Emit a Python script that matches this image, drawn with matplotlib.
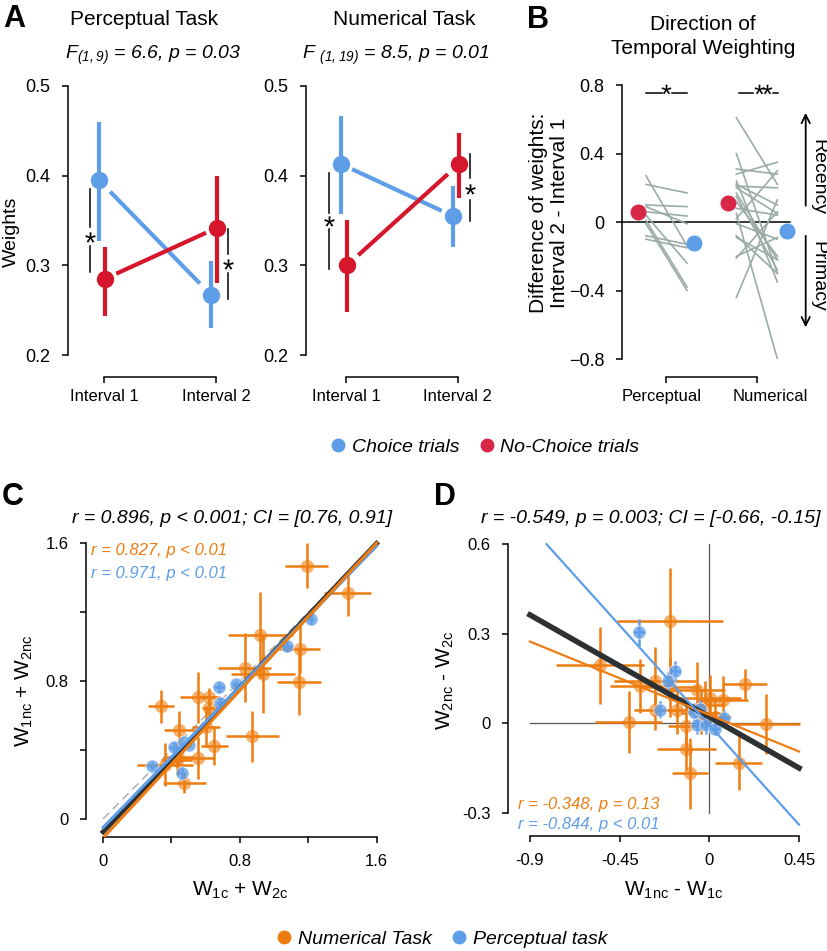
import numpy as np
import matplotlib
matplotlib.use('Agg')
import matplotlib.pyplot as plt
from matplotlib.lines import Line2D

plt.rcParams['font.family'] = ['Liberation Sans', 'DejaVu Sans']
plt.rcParams['mathtext.default'] = 'regular'
plt.rcParams['axes.linewidth'] = 1.1

BLUE = '#5E9DE8'
RED = '#D5162B'
ORANGE = '#EE7D11'
GREY = '#9AABA8'

# ---------------- panel A: mean weights per interval
intervals = [1, 2]
interval_labels = ['Interval 1', 'Interval 2']
perc_choice = [0.395, 0.267]
perc_choice_lo = [0.327, 0.230]
perc_choice_hi = [0.460, 0.305]
perc_nochoice = [0.285, 0.342]
perc_nochoice_lo = [0.243, 0.280]
perc_nochoice_hi = [0.320, 0.400]
num_choice = [0.413, 0.355]
num_choice_lo = [0.357, 0.320]
num_choice_hi = [0.467, 0.388]
num_nochoice = [0.300, 0.413]
num_nochoice_lo = [0.248, 0.375]
num_nochoice_hi = [0.350, 0.448]

# ---------------- panel B: interval2 - interval1 per subject
perc_diff_nochoice = [0.27, 0.22, 0.10, 0.06, 0.04, 0.01, -0.01, -0.08, -0.10, 0.09]
perc_diff_choice = [-0.14, 0.17, 0.09, 0.035, -0.24, -0.38, -0.40, -0.13, -0.15, -0.01]
num_diff_nochoice = [0.61, 0.40, 0.31, 0.28, 0.24, 0.22, 0.20, 0.17, 0.12, 0.08,
                     0.05, 0.02, -0.01, -0.08, -0.09, -0.20, -0.21, -0.44, 0.15, 0.21]
num_diff_choice = [0.22, -0.30, 0.28, 0.35, -0.35, 0.10, 0.05, -0.22, -0.20, 0.04,
                   -0.80, 0.30, -0.10, -0.30, -0.22, -0.09, 0.06, 0.13, -0.28, 0.20]
mean_diff_nochoice = [0.06, 0.11]
mean_diff_choice = [-0.12, -0.055]

# ---------------- panel C: sum of weights (choice vs no-choice)
c_num_x = [1.19, 1.43, 0.92, 1.15, 0.83, 0.936, 1.146, 0.339, 0.557, 0.621,
           0.621, 0.446, 0.601, 0.650, 0.874, 0.553, 0.43, 0.362, 0.475, 0.44]
c_num_y = [1.47, 1.31, 1.07, 0.985, 0.877, 0.843, 0.793, 0.653, 0.706, 0.708,
           0.644, 0.514, 0.535, 0.425, 0.479, 0.353, 0.343, 0.314, 0.211, 0.36]
c_num_xerr = [0.125, 0.14, 0.19, 0.12, 0.155, 0.185, 0.13, 0.076, 0.11, 0.06,
              0.045, 0.092, 0.08, 0.078, 0.154, 0.095, 0.09, 0.165, 0.127, 0.09]
c_num_yerr = [0.13, 0.13, 0.25, 0.14, 0.20, 0.23, 0.19, 0.097, 0.15, 0.05,
              0.05, 0.11, 0.12, 0.113, 0.147, 0.12, 0.09, 0.125, 0.06, 0.10]
c_perc_x = [1.215, 1.073, 0.777, 0.679, 0.683, 0.416, 0.475, 0.50, 0.284, 0.459]
c_perc_y = [1.16, 1.002, 0.783, 0.764, 0.673, 0.417, 0.444, 0.43, 0.308, 0.266]
c_perc_xerr = [0.02, 0.03, 0.02, 0.03, 0.02, 0.03, 0.02, 0.02, 0.02, 0.02]
c_perc_yerr = [0.03, 0.03, 0.02, 0.03, 0.03, 0.03, 0.02, 0.02, 0.02, 0.04]
c_fit = {'all': (1.047, -0.075), 'perc': (1.022, -0.05), 'num': (1.07, -0.11)}

# ---------------- panel D: difference of weights
d_num_x = [-0.196, -0.547, -0.405, 0.181, 0.286, 0.147, -0.099, -0.115, -0.274, -0.062,
           0.005, 0.069, -0.162, -0.115, -0.274, 0.03, -0.04, -0.196, -0.346, -0.02]
d_num_y = [0.344, 0.194, 0.004, 0.130, -0.003, -0.133, -0.168, -0.088, 0.140, 0.110,
           0.083, 0.077, 0.043, -0.010, 0.043, 0.021, 0.035, 0.121, 0.124, 0.06]
d_num_xerr = [0.267, 0.22, 0.17, 0.11, 0.17, 0.117, 0.09, 0.146, 0.205, 0.142,
              0.155, 0.125, 0.1, 0.09, 0.105, 0.08, 0.1, 0.15, 0.15, 0.1]
d_num_yerr = [0.175, 0.13, 0.105, 0.053, 0.10, 0.09, 0.12, 0.07, 0.117, 0.095,
              0.078, 0.08, 0.08, 0.09, 0.065, 0.06, 0.07, 0.1, 0.09, 0.08]
d_perc_x = [-0.355, -0.171, -0.209, -0.246, -0.079, -0.045, -0.062, -0.015, 0.03, 0.075]
d_perc_y = [0.305, 0.174, 0.141, 0.046, 0.038, 0.049, -0.007, -0.007, -0.021, 0.016]
d_perc_xerr = [0.03, 0.025, 0.02, 0.02, 0.02, 0.02, 0.02, 0.02, 0.02, 0.025]
d_perc_yerr = [0.045, 0.035, 0.03, 0.03, 0.03, 0.03, 0.03, 0.03, 0.02, 0.03]
d_fit = {'all': (-0.38, 0.021), 'perc': (-0.742, -0.006), 'num': (-0.273, 0.028)}

fig = plt.figure(figsize=(8.27, 9.51), dpi=100)


def star(ax, x, y, size=7.5):
    ax.plot([x], [y], marker='$*$', ms=size, color='black', mew=0, clip_on=False)


def weight_panel(rect, choice, c_lo, c_hi, nochoice, n_lo, n_hi, xlim):
    ax = fig.add_axes(rect)
    for dx, y, lo, hi, col in [(-0.045, choice, c_lo, c_hi, BLUE),
                               (0.01, nochoice, n_lo, n_hi, RED)]:
        x = np.array(intervals) + dx
        y = np.array(y)
        t = np.array([0.1, 0.9])
        ax.plot(x[0] + t * (x[1] - x[0]), y[0] + t * (y[1] - y[0]),
                color=col, lw=3, solid_capstyle='butt')
        ax.vlines(x, lo, hi, color=col, lw=3)
        ax.plot(x, y, 'o', ms=11.5, color=col)
    ax.set_xlim(*xlim)
    ax.set_ylim(0.2, 0.5)
    ax.spines[['top', 'right']].set_visible(False)
    ax.spines['bottom'].set_bounds(1, 2)
    ax.spines['bottom'].set_position(('outward', 16))
    ax.set_xticks(intervals, interval_labels)
    ax.set_yticks([0.2, 0.3, 0.4, 0.5], ['0.2', '0.3', '0.4', '0.5'])
    ax.tick_params(axis='y', labelsize=13, length=4.5, width=1.1, pad=8)
    ax.tick_params(axis='x', labelsize=12, length=4.5, width=1.1, pad=4)
    return ax


axA1 = weight_panel([0.0822, 0.6267, 0.2225, 0.2829], perc_choice, perc_choice_lo,
                    perc_choice_hi, perc_nochoice, perc_nochoice_lo, perc_nochoice_hi,
                    (0.679, 2.32))
axA1.plot([0.875, 0.875], [0.385, 0.343], color='black', lw=1.1)
axA1.plot([0.875, 0.875], [0.321, 0.293], color='black', lw=1.1)
star(axA1, 0.875, 0.332)
axA1.plot([2.107, 2.107], [0.341, 0.313], color='black', lw=1.1)
axA1.plot([2.107, 2.107], [0.291, 0.263], color='black', lw=1.1)
star(axA1, 2.107, 0.302)

axA2 = weight_panel([0.370, 0.6267, 0.232, 0.2829], num_choice, num_choice_lo,
                    num_choice_hi, num_nochoice, num_nochoice_lo, num_nochoice_hi,
                    (0.643, 2.357))
axA2.plot([0.848, 0.848], [0.403, 0.358], color='black', lw=1.1)
axA2.plot([0.848, 0.848], [0.340, 0.296], color='black', lw=1.1)
star(axA2, 0.848, 0.349)
axA2.plot([2.107, 2.107], [0.424, 0.397], color='black', lw=1.1)
axA2.plot([2.107, 2.107], [0.373, 0.349], color='black', lw=1.1)
star(axA2, 2.107, 0.385)

fig.text(14 / 827, 0.980, 'A', fontsize=22, fontweight='bold', ha='center', va='center')
fig.text(0.174, 0.979, 'Perceptual Task', fontsize=15, ha='center', va='center')
fig.text(0.185, 0.942, 'F$_{(1,9)}$ = 6.6, p = 0.03', fontsize=14, style='italic',
         ha='center', va='center')
fig.text(0.489, 0.979, 'Numerical Task', fontsize=15, ha='center', va='center')
fig.text(0.479, 0.942, 'F $_{(1,19)}$ = 8.5, p = 0.01', fontsize=14, style='italic',
         ha='center', va='center')
fig.text(11 / 827, 0.756, 'Weights', fontsize=14, rotation=90, ha='center', va='center')

# ---------------- panel B
axB = fig.add_axes([0.752, 0.6225, 0.241, 0.288])
for a, b in zip(perc_diff_nochoice, perc_diff_choice):
    axB.plot([0.78, 1.23], [a, b], color=GREY, lw=1.2)
for a, b in zip(num_diff_nochoice, num_diff_choice):
    axB.plot([1.77, 2.22], [a, b], color=GREY, lw=1.2)
axB.plot([0.516, 2.36], [0, 0], color='black', lw=1.1, zorder=1)
axB.plot([0.69, 1.68], mean_diff_nochoice, 'o', ls='none', ms=10.5, color='#D92847', zorder=3)
axB.plot([1.31, 2.32], mean_diff_choice, 'o', ls='none', ms=10.5, color=BLUE, zorder=3)
axB.set_xlim(0.516, 2.7)
axB.set_ylim(-0.8, 0.8)
axB.spines[['top', 'right']].set_visible(False)
axB.spines['bottom'].set_bounds(1, 2)
axB.spines['bottom'].set_position(('outward', 13))
axB.set_xticks([1, 2], ['', ''])
axB.set_xticks([0.95, 2.14], ['Perceptual', 'Numerical'], minor=True)
axB.tick_params(axis='x', which='minor', length=0, labelsize=12, pad=8.5)
axB.tick_params(axis='x', which='major', length=4.5, width=1.1)
axB.set_yticks([-0.8, -0.4, 0, 0.4, 0.8], ['\u22120.8', '\u22120.4', '0', '0.4', '0.8'])
axB.tick_params(axis='y', labelsize=13, length=4.5, width=1.1, pad=8)
# significance
for xs in ([0.78, 0.95], [1.07, 1.23]):
    axB.plot(xs, [0.755, 0.755], color='black', lw=1.1)
star(axB, 1.0, 0.778, 7)
for xs in ([1.80, 1.95], [2.17, 2.23]):
    axB.plot(xs, [0.755, 0.755], color='black', lw=1.1)
star(axB, 2.02, 0.778, 7)
star(axB, 2.11, 0.778, 7)
# recency / primacy arrows
arrow = dict(arrowstyle='->,head_length=0.6,head_width=0.3', lw=1.3, color='black')
axB.annotate('', xy=(2.53, 0.654), xytext=(2.53, 0.08), arrowprops=arrow, annotation_clip=False)
axB.annotate('', xy=(2.53, -0.631), xytext=(2.53, -0.064), arrowprops=arrow, annotation_clip=False)
axB.text(2.66, 0.265, 'Recency', rotation=-90, fontsize=14, ha='center', va='center', clip_on=False)
axB.text(2.66, -0.316, 'Primacy', rotation=-90, fontsize=14, ha='center', va='center', clip_on=False)

fig.text(0.651, 0.979, 'B', fontsize=22, fontweight='bold', ha='center', va='center')
fig.text(0.850, 0.9616, 'Direction of\nTemporal Weighting', fontsize=15, ha='center',
         va='center', linespacing=1.35)
fig.text(0.664, 0.776, 'Difference of weights:\nInterval 2 - Interval 1', fontsize=15,
         rotation=90, ha='center', va='center', multialignment='center', linespacing=1.12)

# legend for A/B
hA = [Line2D([], [], marker='o', ls='none', color=BLUE, ms=9),
      Line2D([], [], marker='o', ls='none', color='#D92847', ms=9)]
fig.legend(hA, ['Choice trials', 'No-Choice trials'], loc='center',
           bbox_to_anchor=(483 / 827, 0.530), ncol=2, frameon=False,
           prop={'style': 'italic', 'size': 14}, handletextpad=0.1,
           columnspacing=0.8, handlelength=1.2)


# ---------------- panels C and D
def scatter_panel(ax, nx, ny, nxe, nye, px, py, pxe, pye):
    ax.errorbar(nx, ny, xerr=nxe, yerr=nye, fmt='none', ecolor=ORANGE, elinewidth=1.8,
                capsize=0, zorder=2)
    ax.plot(nx, ny, 'o', ls='none', ms=9.5, color=ORANGE, alpha=0.6, mec='none', zorder=2)
    ax.errorbar(px, py, xerr=pxe, yerr=pye, fmt='none', ecolor=BLUE, elinewidth=1.8,
                capsize=0, zorder=3)
    ax.plot(px, py, 'o', ls='none', ms=9.5, color=BLUE, alpha=0.75, mec='white',
            mew=0.6, zorder=3)
    ax.spines[['top', 'right']].set_visible(False)
    ax.tick_params(labelsize=12, length=4.5, width=1.1, pad=8)


axC = fig.add_axes([0.104, 0.1199, 0.3555, 0.3123])
axC.plot([0, 1.6], [0, 1.6], ls=(0, (6, 4)), color='#AAAAAA', lw=1, zorder=1)
scatter_panel(axC, c_num_x, c_num_y, c_num_xerr, c_num_yerr,
              c_perc_x, c_perc_y, c_perc_xerr, c_perc_yerr)
xs = np.array([0, 1.6])
for key, col, lw in [('all', '#2E3133', 3.5), ('perc', BLUE, 2.2), ('num', ORANGE, 2.2)]:
    slope, icpt = c_fit[key]
    axC.plot(xs, slope * xs + icpt, color=col, lw=lw, zorder=4)
axC.set_xlim(-0.1, 1.62)
axC.set_ylim(-0.105, 1.62)
axC.spines['left'].set_bounds(0, 1.6)
axC.spines['bottom'].set_bounds(0, 1.6)
axC.set_xticks([0, 0.4, 0.8, 1.2, 1.6], ['0', '', '0.8', '', '1.6'])
axC.set_yticks([0, 0.4, 0.8, 1.2, 1.6], ['0', '', '0.8', '', '1.6'])
axC.text(-0.07, 1.558, 'r = 0.827, p < 0.01', color=ORANGE, style='italic', fontsize=12,
         ha='left', va='center')
axC.text(-0.07, 1.424, 'r = 0.971, p < 0.01', color=BLUE, style='italic', fontsize=12,
         ha='left', va='center')

axD = fig.add_axes([0.6143, 0.1209, 0.3567, 0.310])
axD.plot([0, 0], [-0.3, 0.6], color='#555555', lw=0.9, zorder=1)
axD.plot([-0.9, 0.45], [0, 0], color='#555555', lw=0.9, zorder=1)
scatter_panel(axD, d_num_x, d_num_y, d_num_xerr, d_num_yerr,
              d_perc_x, d_perc_y, d_perc_xerr, d_perc_yerr)
for key, col, lw in [('all', '#2E3133', 4), ('num', ORANGE, 1.6), ('perc', BLUE, 1.6)]:
    slope, icpt = d_fit[key]
    x0 = max(-0.9, (0.6 - icpt) / slope)
    xs = np.array([x0, 0.45])
    axD.plot(xs, slope * xs + icpt, color=col, lw=lw, zorder=4)
axD.set_xlim(-1.01, 0.47)
axD.set_ylim(-0.378, 0.61)
axD.spines['left'].set_bounds(-0.3, 0.6)
axD.spines['bottom'].set_bounds(-0.9, 0.45)
axD.set_xticks([-0.9, -0.45, 0, 0.45], ['-0.9', '-0.45', '0', '0.45'])
axD.set_yticks([-0.3, 0, 0.3, 0.6], ['-0.3', '0', '0.3', '0.6'])
axD.text(-0.958, -0.274, 'r = -0.348, p = 0.13', color=ORANGE, style='italic', fontsize=12,
         ha='left', va='center')
axD.text(-0.958, -0.341, 'r = -0.844, p < 0.01', color=BLUE, style='italic', fontsize=12,
         ha='left', va='center')

fig.text(0.016, 0.477, 'C', fontsize=22, fontweight='bold', ha='center', va='center')
fig.text(0.538, 0.477, 'D', fontsize=22, fontweight='bold', ha='center', va='center')
fig.text(0.2805, 0.4553, 'r = 0.896, p < 0.001; CI = [0.76, 0.91]', fontsize=14,
         style='italic', ha='center', va='center')
fig.text(0.787, 0.4553, 'r = -0.549, p = 0.003; CI = [-0.66, -0.15]', fontsize=14,
         style='italic', ha='center', va='center')
fig.text(0.290, 0.064, 'W$_{1c}$ + W$_{2c}$', fontsize=15, ha='center', va='center')
fig.text(0.029, 0.2734, 'W$_{1nc}$ + W$_{2nc}$', fontsize=15, rotation=90,
         ha='center', va='center')
fig.text(0.815, 0.064, 'W$_{1nc}$ - W$_{1c}$', fontsize=15, ha='center', va='center')
fig.text(0.539, 0.285, 'W$_{2nc}$ - W$_{2c}$', fontsize=15, rotation=90,
         ha='center', va='center')

hC = [Line2D([], [], marker='o', ls='none', color=ORANGE, ms=9),
      Line2D([], [], marker='o', ls='none', color=BLUE, ms=9)]
fig.legend(hC, ['Numerical Task', 'Perceptual task'], loc='center',
           bbox_to_anchor=(0.532, 0.0125), ncol=2, frameon=False,
           prop={'style': 'italic', 'size': 14}, handletextpad=0.1,
           columnspacing=0.8, handlelength=1.2)

fig.savefig('out.png', dpi=100)
